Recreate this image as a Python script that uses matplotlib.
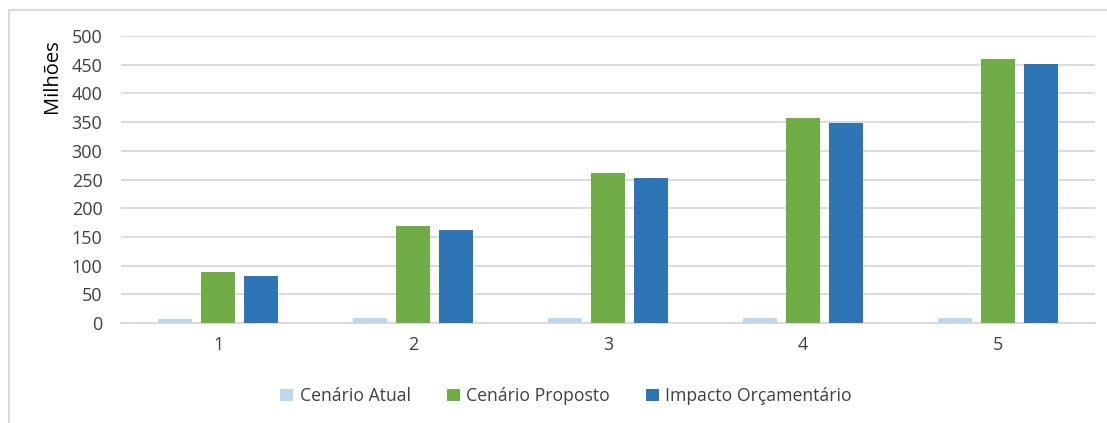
import matplotlib.pyplot as plt
from matplotlib.lines import Line2D
import numpy as np

# dados (milhões)
anos = ["1", "2", "3", "4", "5"]
cenario_atual = [7, 9, 9, 9, 9]
cenario_proposto = [89, 169, 261, 357, 460]
impacto_orcamentario = [82, 162, 253, 348, 451]

plt.rcParams["font.family"] = ["Open Sans", "DejaVu Sans"]

fig = plt.figure(figsize=(11.07, 4.23), dpi=100)
ax = fig.add_axes([0.1089, 0.2364, 0.8807, 0.6785])

# moldura do gráfico (só topo e esquerda aparecem no recorte)
fig.lines.append(Line2D([8.5 / 1107, 8.5 / 1107, 1.0], [0.0, 1 - 10.5 / 423, 1 - 10.5 / 423],
                        transform=fig.transFigure, color="#D9D9D9", linewidth=1.5))

x = np.arange(len(anos))
w = 0.174
off = 0.22
ax.bar(x - off, cenario_atual, w, color="#BDD7EE", label="Cenário Atual", zorder=3)
ax.bar(x, cenario_proposto, w, color="#70AD47", label="Cenário Proposto", zorder=3)
ax.bar(x + off, impacto_orcamentario, w, color="#2E75B6", label="Impacto Orçamentário", zorder=3)

ax.set_xlim(-0.5, len(anos) - 0.5)
ax.set_ylim(0, 500)
ax.set_yticks(range(0, 501, 50))
ax.set_xticks(x)
ax.set_xticklabels(anos)
ax.grid(axis="y", color="#D9D9D9", linewidth=1.3, zorder=0)
for s in ax.spines.values():
    s.set_visible(False)
ax.spines["bottom"].set_visible(True)
ax.spines["bottom"].set_color("#D9D9D9")
ax.spines["bottom"].set_linewidth(1.3)
ax.tick_params(length=0, labelsize=13, colors="#404040")
ax.tick_params(axis="y", pad=13)
ax.tick_params(axis="x", pad=9)
ax.set_ylabel("Milhões", fontsize=14.5, color="black")
ax.yaxis.set_label_coords(-0.06, 0.86)

ax.legend(loc="center", bbox_to_anchor=(0.457, -0.255), ncol=3, frameon=False,
          fontsize=12.7, handlelength=0.75, handleheight=0.75, columnspacing=2.05,
          handletextpad=0.35, labelcolor="#404040")

fig.savefig("out.png", dpi=100, facecolor="white")
